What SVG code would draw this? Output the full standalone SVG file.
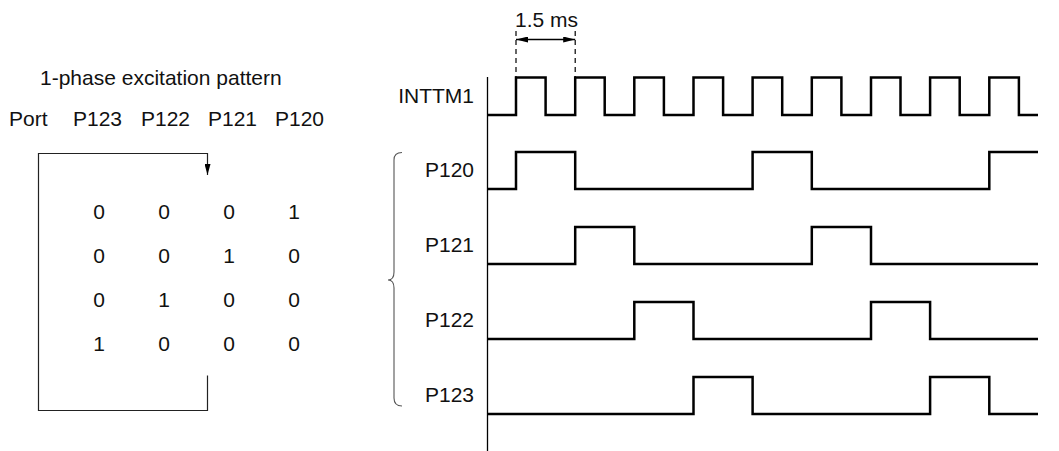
<svg xmlns="http://www.w3.org/2000/svg" width="1059" height="451" viewBox="0 0 1059 451">
<style>
text{font-family:"Liberation Sans",Arial,sans-serif;font-size:21px;fill:#111}
.wave{fill:none;stroke:#000;stroke-width:2.5;stroke-linejoin:miter}
.thin{fill:none;stroke:#222;stroke-width:1.2}
.dash{fill:none;stroke:#000;stroke-width:1.2;stroke-dasharray:5 4}
.mid{text-anchor:middle}
.end{text-anchor:end}
</style>
<defs>
<marker id="ah" viewBox="0 0 12 6" refX="12" refY="3" markerWidth="12" markerHeight="6" markerUnits="userSpaceOnUse" orient="auto-start-reverse">
<path d="M0 0L12 3L0 6z" fill="#000"/>
</marker>
<marker id="ahs" viewBox="0 0 6 11" refX="3" refY="11" markerWidth="6" markerHeight="11" markerUnits="userSpaceOnUse" orient="0">
<path d="M0 0L6 0L3 11z" fill="#000"/>
</marker>
</defs>
<rect width="1059" height="451" fill="#fff"/>

<g id="table">
<text x="40" y="85">1-phase excitation pattern</text>
<text x="9" y="126">Port</text>
<text x="73" y="126">P123</text>
<text x="141" y="126">P122</text>
<text x="208" y="126">P121</text>
<text x="275" y="126">P120</text>
<g id="row1">
<text class="mid" x="99" y="219">0</text><text class="mid" x="164" y="219">0</text><text class="mid" x="229" y="219">0</text><text class="mid" x="294" y="219">1</text>
</g>
<g id="row2">
<text class="mid" x="99" y="263">0</text><text class="mid" x="164" y="263">0</text><text class="mid" x="229" y="263">1</text><text class="mid" x="294" y="263">0</text>
</g>
<g id="row3">
<text class="mid" x="99" y="307">0</text><text class="mid" x="164" y="307">1</text><text class="mid" x="229" y="307">0</text><text class="mid" x="294" y="307">0</text>
</g>
<g id="row4">
<text class="mid" x="99" y="351">1</text><text class="mid" x="164" y="351">0</text><text class="mid" x="229" y="351">0</text><text class="mid" x="294" y="351">0</text>
</g>
</g>

<g id="connectors">
<path class="thin" d="M207.5 375.5V410.5H38.5V153.5H207.5V175" marker-end="url(#ahs)"/>
<path class="dash" d="M516 31V77"/>
<path class="dash" d="M575.2 31V77"/>
<path fill="none" stroke="#000" stroke-width="1.3" d="M516 39.5H575.2" marker-start="url(#ah)" marker-end="url(#ah)"/>
<path fill="none" stroke="#555" stroke-width="1.1" d="M402 152.5Q394 152.5 394 160V272Q394 280 388 280Q394 280 394 288V398Q394 406 402 406"/>
<path fill="none" stroke="#000" stroke-width="1.3" d="M487.5 77V451"/>
</g>

<g id="dimension">
<text x="515" y="27">1.5 ms</text>
</g>

<g id="INTTM1">
<text class="end" x="474" y="103">INTTM1</text>
<path class="wave" d="M487.5 115H516V77.5H545.6V115H575.2V77.5H604.7V115H634.3V77.5H663.9V115H693.5V77.5H723.1V115H752.6V77.5H782.2V115H811.8V77.5H841.4V115H871V77.5H900.5V115H930.1V77.5H959.7V115H989.3V77.5H1018.9V115H1038"/>
</g>
<g id="P120">
<text class="end" x="474" y="177">P120</text>
<path class="wave" d="M487.5 189H516V152H575.2V189H752.6V152H811.8V189H989.3V152H1038"/>
</g>
<g id="P121">
<text class="end" x="474" y="252">P121</text>
<path class="wave" d="M487.5 264H575.2V227H634.3V264H811.8V227H871V264H1038"/>
</g>
<g id="P122">
<text class="end" x="474" y="327">P122</text>
<path class="wave" d="M487.5 339H634.3V302H693.5V339H871V302H930.1V339H1038"/>
</g>
<g id="P123">
<text class="end" x="474" y="402">P123</text>
<path class="wave" d="M487.5 414H693.5V377H752.6V414H930.1V377H989.3V414H1038"/>
</g>
</svg>
